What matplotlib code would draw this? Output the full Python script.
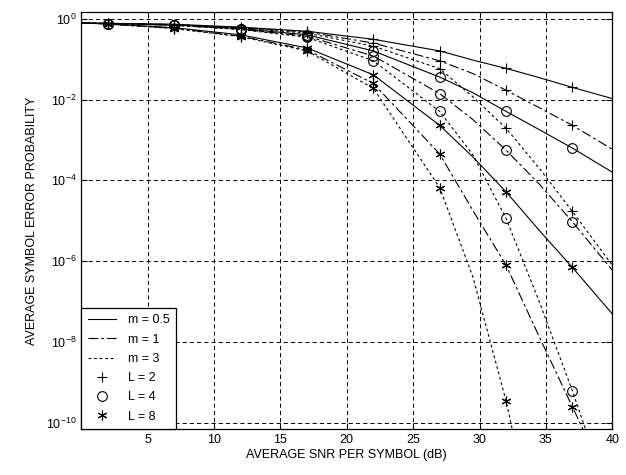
import matplotlib
matplotlib.use('Agg')
import matplotlib.pyplot as plt
from matplotlib.lines import Line2D
from matplotlib.ticker import NullLocator

plt.rcParams['font.family'] = ['Liberation Sans', 'DejaVu Sans']
plt.rcParams['mathtext.fontset'] = 'custom'
plt.rcParams['mathtext.rm'] = 'Liberation Sans'
plt.rcParams['mathtext.it'] = 'Liberation Sans:italic'
plt.rcParams['lines.scale_dashes'] = False

snr_db = [0, 2, 7, 12, 17, 22, 27, 29.5, 32, 34.5, 37, 40]
# markers only at 2, 7, 12, ..., 37 dB
marker_idx = [1, 2, 3, 4, 5, 6, 8, 10]

# m = 0.5 (solid)
ser_m05_L2 = [0.78, 0.77, 0.73, 0.62, 0.49, 0.31, 0.16, 0.095, 0.059, 0.035, 0.020, 0.0106]
ser_m05_L4 = [0.78, 0.76, 0.70, 0.57, 0.40, 0.16, 0.036, 0.0148, 5.1e-3, 1.8e-3, 6.3e-4, 1.6e-4]
ser_m05_L8 = [0.79, 0.74, 0.60, 0.40, 0.19, 0.041, 2.3e-3, 3.8e-4, 5.2e-5, 5.8e-6, 7.0e-7, 5.0e-8]
# m = 1 (dash-dot)
ser_m1_L2 = [0.78, 0.77, 0.72, 0.60, 0.47, 0.25, 0.091, 0.044, 0.017, 6.3e-3, 2.3e-3, 5.9e-4]
ser_m1_L4 = [0.78, 0.76, 0.69, 0.55, 0.37, 0.12, 0.014, 3.2e-3, 5.6e-4, 8.1e-5, 9.5e-6, 6.0e-7]
ser_m1_L8 = [0.79, 0.74, 0.58, 0.37, 0.17, 0.025, 4.5e-4, 1.8e-5, 8.0e-7, 1.35e-8, 2.5e-10, 2.0e-12]
# m = 3 (dotted)
ser_m3_L2 = [0.78, 0.77, 0.72, 0.59, 0.44, 0.21, 0.058, 0.0117, 1.95e-3, 2.0e-4, 1.7e-5, 8.0e-7]
ser_m3_L4 = [0.78, 0.76, 0.69, 0.54, 0.35, 0.091, 5.1e-3, 4.3e-4, 1.15e-5, 1.0e-7, 6.2e-10, 8.0e-13]
ser_m3_L8 = [0.79, 0.74, 0.57, 0.36, 0.16, 0.019, 6.6e-5, 4.1e-7, 3.5e-10, 6.0e-14, 1.0e-16, 1.0e-19]

line_styles = {'0.5': '-', '1': (0, (7, 2.2, 2, 2.2)), '3': (0, (2, 2))}
marker_styles = {2: '+', 4: 'o', 8: (6, 2, 0)}

curves = [
    ('0.5', 2, ser_m05_L2), ('0.5', 4, ser_m05_L4), ('0.5', 8, ser_m05_L8),
    ('1', 2, ser_m1_L2), ('1', 4, ser_m1_L4), ('1', 8, ser_m1_L8),
    ('3', 2, ser_m3_L2), ('3', 4, ser_m3_L4), ('3', 8, ser_m3_L8),
]

fig = plt.figure(figsize=(6.26, 4.75), dpi=100)
ax = fig.add_axes([0.130, 0.097, 0.848, 0.878])

for m, L, vals in curves:
    ax.plot(snr_db, vals, color='k', lw=0.8, linestyle=line_styles[m],
            marker=marker_styles[L], markevery=marker_idx,
            ms=7, mfc='none', mec='k', mew=0.8)

ax.set_yscale('log')
ax.set_xlim(0, 40)
ax.set_ylim(10 ** -10.15, 10 ** 0.17)
ax.set_xticks(range(5, 41, 5))
ax.set_yticks([1e0, 1e-2, 1e-4, 1e-6, 1e-8, 1e-10])
ax.yaxis.set_minor_locator(NullLocator())
ax.tick_params(direction='in', top=True, right=True, labelsize=9, length=4, width=0.8)
ax.grid(True, color='k', linestyle=(0, (3, 2.2)), lw=0.7)
for s in ax.spines.values():
    s.set_linewidth(0.9)

ax.set_xlabel('AVERAGE SNR PER SYMBOL (dB)', fontsize=9, labelpad=2)
ax.set_ylabel('AVERAGE SYMBOL ERROR PROBABILITY', fontsize=9, labelpad=6)

handles = [Line2D([], [], color='k', lw=0.8, linestyle=line_styles[k]) for k in ['0.5', '1', '3']]
handles += [Line2D([], [], color='k', ls='none', marker=marker_styles[L], ms=7,
                   mfc='none', mew=0.8) for L in [2, 4, 8]]
labels = ['m = 0.5', 'm = 1', 'm = 3', 'L = 2', 'L = 4', 'L = 8']
leg = ax.legend(handles, labels, loc='lower left', borderaxespad=0, fontsize=9,
                fancybox=False, edgecolor='k', framealpha=1, handlelength=2.3,
                handletextpad=0.9, labelspacing=0.58, borderpad=0.5)
leg.get_frame().set_linewidth(0.9)

fig.savefig('out.png', dpi=100)
